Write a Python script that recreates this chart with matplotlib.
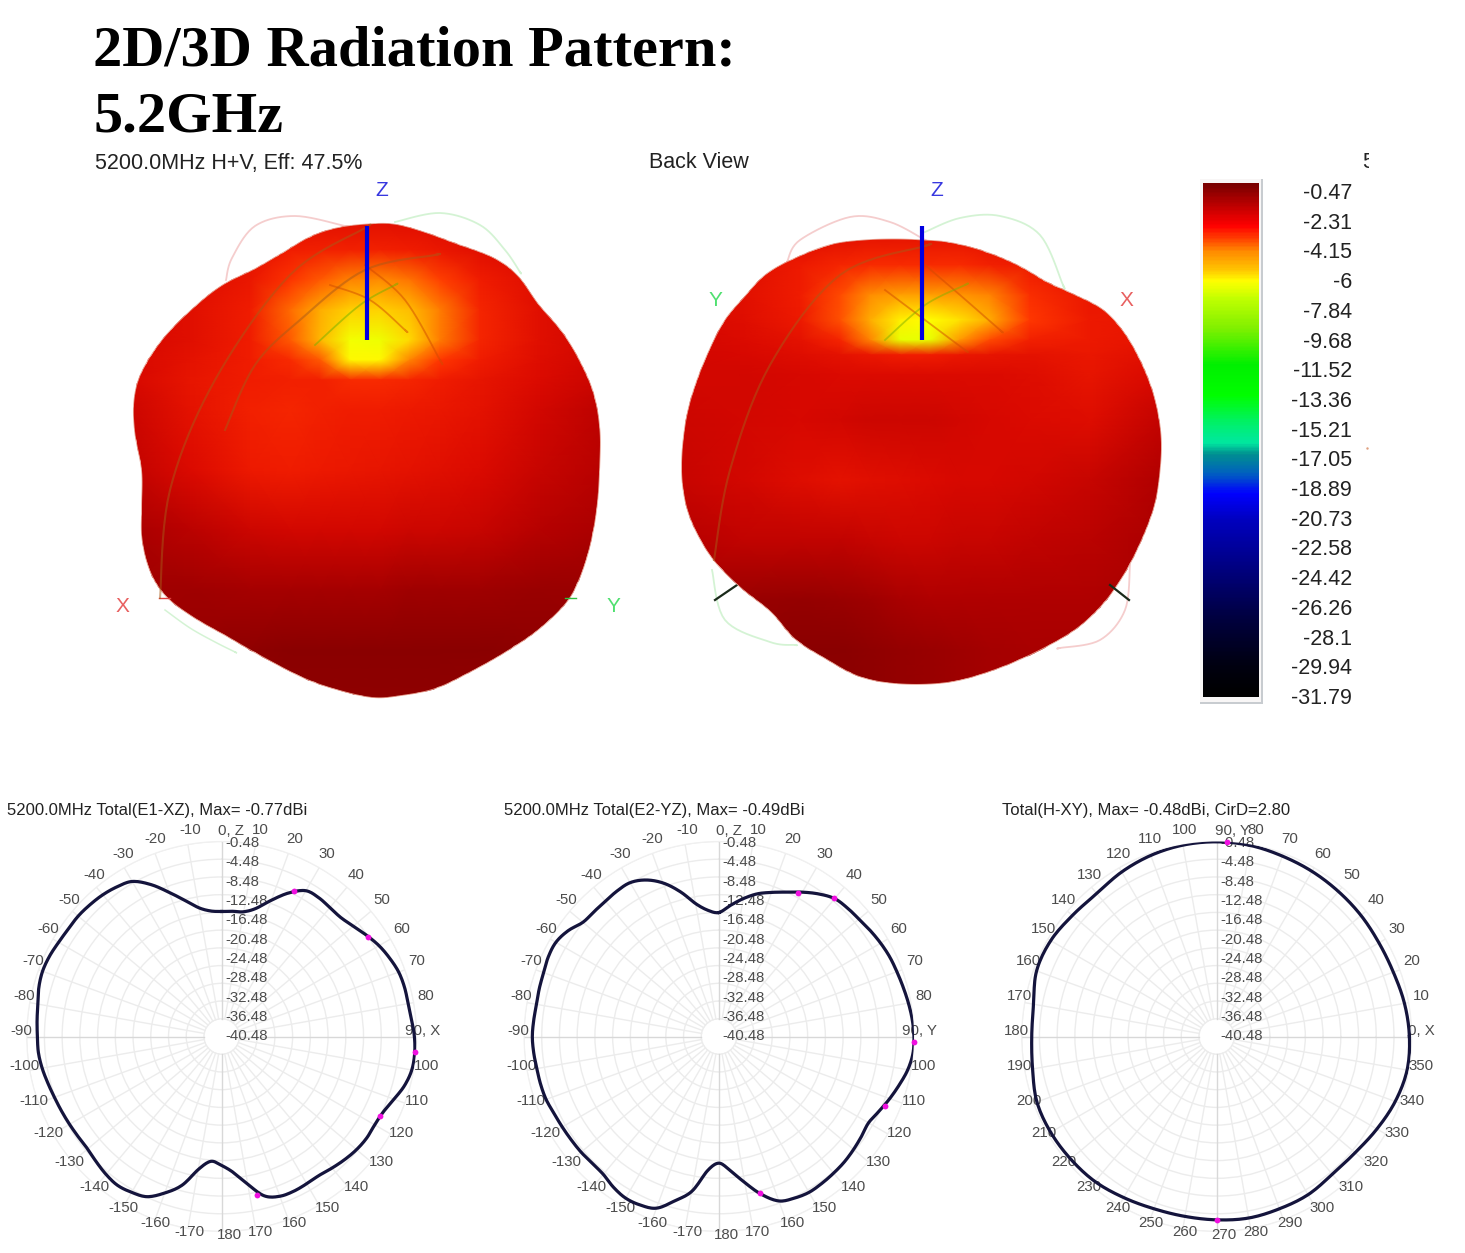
import matplotlib
matplotlib.use("Agg")
import matplotlib.pyplot as plt
import numpy as np
from matplotlib.colors import LinearSegmentedColormap, Normalize
from matplotlib.patches import Polygon, Rectangle

plt.rcParams["font.family"] = ["Liberation Sans", "DejaVu Sans"]

W, H = 1465, 1253

# --- colour scale ---
bar_labels = ["-0.47", "-2.31", "-4.15", "-6", "-7.84", "-9.68", "-11.52", "-13.36", "-15.21",
              "-17.05", "-18.89", "-20.73", "-22.58", "-24.42", "-26.26", "-28.1", "-29.94", "-31.79"]
scale_db = [0.47, 1.5, 3.0, 3.6, 4.6, 5.6, 6.4, 7.5, 9.3, 11.5, 13.4, 15.2, 16.3, 17.0, 18.2,
            19.4, 21.0, 24.0, 27.0, 30.0, 31.79]
scale_colors = ["#7a0000", "#b00000", "#ff0000", "#ff3000", "#ff8c00", "#ffc000", "#ffff00", "#c0ff00",
                "#80f000", "#00f000", "#00ff00", "#00f070", "#00e8a0", "#009090", "#0060c0",
                "#0000ff", "#0000c0", "#000080", "#000040", "#000010", "#000000"]
# the lit surface runs a little more orange than the bar
surface_db = [0.47, 0.8, 1.5, 2.2, 3.0, 3.6, 4.6, 5.6, 6.4, 7.5]
surface_colors = ["#7a0000", "#8a0000", "#b00000", "#d80800", "#f01c00", "#ff3800", "#ff8c00", "#ffc000",
                  "#ffff00", "#c0ff00"]

# --- 2D cuts, dBi ---
angles_5 = np.arange(0, 360, 5)
e1_db = [-16.27, -16.12, -15.9, -14.55, -11.77, -8.75, -6.5, -6.27, -6.5, -6.5, -5.74, -4.62,
         -3.49, -2.66, -1.98, -1.76, -1.76, -1.46, -1.0, -0.77, -0.93, -1.76, -3.11, -4.24,
         -4.62, -4.54, -4.77, -5.22, -5.74, -6.2, -6.12, -5.97, -6.12, -7.25, -10.64, -13.64,
         -15.37, -16.2, -14.0, -9.7, -6.9, -4.6, -3.87, -3.49, -3.87, -4.47, -4.99, -4.99,
         -4.84, -4.62, -4.32, -3.87, -3.34, -2.96, -2.89, -2.66, -2.36, -1.76, -1.46, -1.61,
         -1.98, -2.21, -2.21, -2.44, -2.74, -3.26, -4.09, -6.65, -9.88, -12.74, -15.0, -16.05]
e2_db = [-16.5, -14.77, -12.89, -11.16, -9.88, -8.53, -6.87, -5.22, -3.87, -3.49, -3.26, -2.81,
         -2.36, -1.98, -1.76, -1.46, -1.08, -0.71, -0.49, -0.55, -1.23, -2.36, -3.49, -4.62,
         -5.52, -5.22, -4.84, -4.47, -4.24, -4.02, -3.87, -4.24, -4.99, -7.62, -11.01, -14.02,
         -15.9, -14.02, -8.98, -6.12, -3.26, -2.51, -2.36, -2.96, -3.87, -4.02, -3.87, -3.79,
         -3.64, -3.41, -2.96, -2.81, -2.74, -2.51, -2.36, -2.51, -2.66, -2.51, -2.36, -1.98,
         -1.98, -2.89, -4.39, -4.62, -4.62, -4.39, -4.39, -5.52, -7.62, -10.64, -14.02, -15.9]
angles_10 = np.arange(0, 360, 10)
h_db = [-1.0, -1.46, -2.06, -2.21, -1.98, -1.76, -1.46, -1.16, -0.71, -0.55, -0.63, -1.0,
        -1.61, -2.36, -1.98, -1.23, -1.23, -2.51, -2.74, -2.29, -1.31, -1.23, -1.46, -1.76,
        -2.51, -3.11, -3.26, -3.11, -2.89, -3.11, -3.26, -3.9, -3.7, -2.74, -1.61, -0.86]

e1_mark_ang = [26.6, 55.7, 94.6, 116.8, 167.5]
e1_mark_db = [-7.85, -4.47, -0.77, -4.47, -7.96]
e2_mark_ang = [28.9, 39.8, 91.5, 112.6, 165.3]
e2_mark_db = [-7.4, -3.87, -0.49, -3.94, -7.92]
h_mark_ang = [87, 270]
h_mark_db = [-0.48, -3.11]

ring_db = np.arange(-40.48, 0, 4)
ring_labels = ["-0.48", "-4.48", "-8.48", "-12.48", "-16.48", "-20.48", "-24.48", "-28.48",
               "-32.48", "-36.48", "-40.48"]

# --- 3D views: outlines and colour levels ---
blob1_x = [367.6, 393.4, 421, 455.5, 493.5, 517.6, 538.3, 562.5, 579.7, 593.5, 599.8, 599.8, 597, 590,
           579.7, 566, 538, 504, 469, 435, 400, 372.7, 338, 303.7, 262, 228, 193, 165.7, 150, 142,
           141.6, 141.6, 134.7, 134, 141.6, 162, 190, 221, 255.4, 283, 310.6, 338]
blob1_y = [224, 224, 231, 243.4, 257.8, 275.6, 304, 332.5, 361, 393, 428.7, 464.3, 507, 546,
           578, 603, 630, 653, 672.6, 688.6, 695.7, 697.5, 690, 678, 656.5, 637, 617, 596, 571, 539,
           507, 471, 432, 400, 372, 340, 311, 286, 268.5, 252.5, 236.5, 227.6]
blob1_xn = [130, 190, 250, 290, 320, 350, 380, 410, 440, 480, 540, 610]
blob1_yn = [220, 250, 280, 310, 340, 360, 380, 410, 470, 530, 590, 650, 700]
blob1_lv = [[-2.2, -2.2, -2.3, -2.4, -2.5, -2.5, -2.5, -2.4, -2.3, -2.2, -2.1, -2.1],
            [-2.2, -2.3, -2.6, -3.0, -3.1, -3.1, -3.1, -3.0, -2.8, -2.5, -2.2, -2.1],
            [-2.2, -2.4, -2.8, -3.5, -4.0, -4.5, -4.6, -4.3, -3.7, -3.0, -2.4, -2.1],
            [-2.2, -2.5, -3.0, -4.2, -5.2, -5.8, -5.8, -5.5, -4.4, -3.2, -2.5, -2.0],
            [-2.2, -2.5, -3.0, -4.0, -5.4, -6.6, -6.7, -5.9, -4.4, -3.2, -2.5, -2.0],
            [-2.2, -2.6, -3.0, -3.3, -4.0, -6.3, -6.3, -4.5, -3.6, -3.0, -2.4, -2.0],
            [-2.2, -2.7, -3.0, -3.1, -3.1, -3.3, -3.3, -3.2, -3.0, -2.7, -2.3, -1.9],
            [-2.0, -2.6, -3.1, -3.2, -3.1, -3.0, -3.0, -2.9, -2.8, -2.6, -2.1, -1.7],
            [-1.8, -2.3, -2.9, -3.0, -2.9, -2.8, -2.7, -2.6, -2.5, -2.3, -1.9, -1.6],
            [-1.4, -1.7, -2.0, -2.1, -2.1, -2.1, -2.1, -2.0, -2.0, -1.9, -1.6, -1.4],
            [-1.2, -1.2, -1.3, -1.3, -1.3, -1.3, -1.3, -1.2, -1.2, -1.2, -1.1, -1.1],
            [-1.4, -1.1, -0.9, -0.8, -0.8, -0.8, -0.8, -0.8, -0.8, -0.8, -0.9, -1.1],
            [-1.4, -1.2, -1.0, -0.9, -0.9, -0.9, -0.9, -0.9, -0.9, -1.0, -1.1, -1.2]]

blob2_x = [922.8, 950.4, 985, 1019.4, 1047, 1071, 1102, 1123, 1140, 1154, 1161, 1160, 1154, 1140, 1123,
           1102, 1074.6, 1036.7, 995, 950.4, 902, 860.7, 826, 795, 771, 740, 712, 691.7, 683, 682,
           688, 702, 722.7, 743.4, 767.6, 802, 833, 864, 895]
blob2_y = [240, 242.5, 251.5, 266, 282, 293, 309, 331, 360, 396, 435, 471, 507, 543.5, 576,
           605, 630, 651.6, 669.6, 682, 684, 677, 659, 639, 612, 587, 558, 522, 489, 453,
           410, 367, 323.6, 298, 273, 255, 244, 240, 239]
blob2_xn = [680, 740, 800, 840, 870, 900, 930, 960, 990, 1030, 1090, 1165]
blob2_yn = [235, 265, 295, 320, 340, 355, 375, 420, 480, 540, 600, 650, 690]
blob2_lv = [[-2.4, -2.4, -2.4, -2.5, -2.6, -2.6, -2.6, -2.6, -2.5, -2.4, -2.4, -2.4],
            [-2.4, -2.5, -2.9, -3.2, -3.3, -3.3, -3.3, -3.3, -3.1, -2.9, -2.5, -2.4],
            [-2.3, -2.5, -3.0, -3.8, -4.6, -5.0, -5.0, -4.8, -4.5, -3.4, -2.8, -2.6],
            [-2.2, -2.4, -2.9, -3.9, -5.2, -6.2, -6.4, -6.0, -5.2, -3.6, -2.9, -2.7],
            [-2.1, -2.3, -2.6, -3.2, -4.5, -6.8, -6.8, -4.8, -3.8, -3.1, -2.9, -2.6],
            [-2.1, -2.2, -2.4, -2.6, -2.8, -3.0, -3.0, -2.8, -2.7, -2.6, -2.8, -2.4],
            [-2.1, -2.1, -2.2, -2.3, -2.3, -2.3, -2.3, -2.3, -2.3, -2.4, -2.7, -2.2],
            [-2.0, -2.1, -2.2, -2.1, -2.0, -2.0, -2.0, -2.1, -2.2, -2.3, -2.4, -1.8],
            [-1.9, -2.1, -2.4, -2.6, -2.5, -2.4, -2.3, -2.2, -2.2, -2.1, -1.9, -1.5],
            [-1.6, -1.8, -1.8, -1.8, -1.9, -2.0, -2.0, -1.9, -1.9, -1.8, -1.7, -1.4],
            [-1.4, -1.1, -1.0, -1.1, -1.2, -1.4, -1.5, -1.5, -1.5, -1.5, -1.5, -1.4],
            [-1.2, -0.9, -0.8, -0.8, -0.9, -1.0, -1.1, -1.2, -1.3, -1.4, -1.4, -1.4],
            [-1.0, -0.9, -0.9, -0.9, -0.9, -1.0, -1.1, -1.2, -1.3, -1.4, -1.4, -1.4]]

# faint cut traces and the lines seen through the surface
traces = [
    ([226, 232, 255, 295, 345], [280, 258, 226, 216, 226], "#f4c8c8", 1.3, 1),
    ([395, 440, 480, 505, 520], [222, 213, 225, 250, 272], "#d0f2d0", 1.3, 1),
    ([165, 190, 215, 235], [610, 628, 642, 652], "#d0f2d0", 1.1, 1),
    ([787, 800, 850, 890, 925], [262, 240, 217, 222, 240], "#f4c8c8", 1.3, 1),
    ([925, 960, 1000, 1040, 1063], [232, 218, 216, 235, 285], "#d0f2d0", 1.3, 1),
    ([712, 725, 770, 795], [570, 620, 642, 645], "#d0f2d0", 1.3, 1),
    ([1130, 1125, 1100, 1060], [565, 610, 640, 648], "#f4c8c8", 1.3, 1),
    ([160, 170, 215, 290, 365], [598, 490, 380, 275, 228], "#a85a18", 1.5, 4),
    ([225, 255, 300, 365, 435], [430, 365, 320, 270, 255], "#a85a18", 1.5, 4),
    ([330, 370, 405], [285, 300, 330], "#d04a00", 1.3, 4),
    ([365, 405, 440], [265, 300, 360], "#d04a00", 1.3, 4),
    ([315, 360, 395], [345, 305, 285], "#70b000", 1.3, 4),
    ([714, 730, 770, 840, 925], [560, 470, 365, 275, 246], "#a85a18", 1.5, 4),
    ([885, 925, 965], [290, 320, 350], "#d04a00", 1.3, 4),
    ([925, 960, 1000], [265, 295, 330], "#d04a00", 1.3, 4),
    ([885, 925, 965], [340, 305, 285], "#80b000", 1.3, 4),
]


def catmull(p, n=10):
    # round off between read points; the curve still goes through every one of them
    t = np.linspace(0, 1, n, endpoint=False)[:, None]
    out = []
    for a, b, c, d in zip(p[:-3], p[1:-2], p[2:-1], p[3:]):
        out.append(0.5 * (2 * b + (c - a) * t + (2 * a - 5 * b + 4 * c - d) * t ** 2
                          + (3 * b - a - 3 * c + d) * t ** 3))
    return np.vstack(out)


def spline(x, y, closed=False):
    p = np.column_stack([x, y]).astype(float)
    if closed:
        return catmull(np.vstack([p[-1], p, p[0], p[1]]))
    return catmull(np.vstack([p[0], p, p[-1], p[-1]]))


fig = plt.figure(figsize=(W / 100, H / 100), dpi=100, facecolor="white")
ov = fig.add_axes([0, 0, 1, 1], zorder=0)
ov.axis("off")

# --- title ---
for y, line in [(66, "2D/3D Radiation Pattern:"), (132, "5.2GHz")]:
    ov.text(93, y, line, fontsize=42, fontweight="bold", family=["Liberation Serif"], va="baseline", color="black")

for x, s in [(95, "5200.0MHz H+V, Eff: 47.5%"), (649, "Back View"), (1362, "5")]:
    ov.text(x, 168.5, s, fontsize=15.5, va="baseline", color="#222222")
ov.add_patch(Rectangle((1369, 150), 20, 25, fc="white", ec="none", zorder=3))
ov.plot([1367], [448], ".", color="#e0a080", ms=1.5)

# --- 3D views ---
cmap = LinearSegmentedColormap.from_list(
    "gain", [((d - scale_db[0]) / (scale_db[-1] - scale_db[0]), c) for d, c in zip(scale_db, scale_colors)])
norm = Normalize(scale_db[0], scale_db[-1])
surface = LinearSegmentedColormap.from_list(
    "surface", [((d - surface_db[0]) / (surface_db[-1] - surface_db[0]), c)
                for d, c in zip(surface_db, surface_colors)])
surface_norm = Normalize(surface_db[0], surface_db[-1])

for xs, ys, xn, yn, lv in [(blob1_x, blob1_y, blob1_xn, blob1_yn, blob1_lv),
                           (blob2_x, blob2_y, blob2_xn, blob2_yn, blob2_lv)]:
    outline = Polygon(spline(xs, ys, closed=True), closed=True, fc="none", ec="#e8a090", lw=0.6, zorder=2.2)
    ov.add_patch(outline)
    mesh = ov.pcolormesh(xn, yn, -np.array(lv), cmap=surface, norm=surface_norm, shading="gouraud", zorder=2)
    mesh.set_clip_path(outline)

for tx, ty, col, lw, z in traces:
    pts = spline(tx, ty)
    ov.plot(pts[:, 0], pts[:, 1], color=col, lw=lw, zorder=z, alpha=0.9 if z == 1 else 0.5)

for x in (367, 922):
    ov.plot([x, x], [226, 340], color="#0000e0", lw=3.0, zorder=5, solid_capstyle="butt")
ov.plot([715, 737], [600, 585], color="#1a2a1a", lw=1.6, zorder=1)
ov.plot([1110, 1129], [585, 600], color="#1a2a1a", lw=1.6, zorder=3)
ov.plot([159, 170], [598, 598], color="#e04040", lw=1.0, zorder=3)
ov.plot([565, 576], [598, 598], color="#30c040", lw=1.0, zorder=3)

for x, y, s, col in [(382, 190, "Z", "#3838e0"), (122, 606, "X", "#e86060"), (613, 606, "Y", "#50e070"),
                     (937, 190, "Z", "#3838e0"), (715, 300, "Y", "#50e070"), (1126, 301, "X", "#e86060")]:
    ov.text(x, y, s, color=col, fontsize=15, ha="center", va="center")

# --- colour bar ---
ov.add_patch(Rectangle((1200, 179), 63, 525, fc="#c8ccd0", ec="none", zorder=1))
ov.add_patch(Rectangle((1200, 179), 61, 523, fc="#f8f6f6", ec="none", zorder=1.1))
gradient = np.linspace(scale_db[0], scale_db[-1], 400)[:, None]
ov.imshow(gradient, cmap=cmap, norm=norm, extent=(1203, 1259, 697, 183), aspect="auto", zorder=1.5)
for i, s in enumerate(bar_labels):
    ov.text(1352, 193.5 + i * (697 - 192) / 17, s, ha="right", va="center", fontsize=15.5, color="#222222")

ov.set_xlim(0, W)
ov.set_ylim(H, 0)

# --- polar cuts ---
R = 195
CY = 1036.5
cuts = [
    (221.7, "5200.0MHz Total(E1-XZ), Max= -0.77dBi", 7, angles_5, e1_db, e1_mark_ang, e1_mark_db, "N", -1,
     {0: ("0, Z", 6, 4), 90: ("90, X", -7, 0), 180: ("180", 4, 0)}),
    (719.0, "5200.0MHz Total(E2-YZ), Max= -0.49dBi", 504, angles_5, e2_db, e2_mark_ang, e2_mark_db, "N", -1,
     {0: ("0, Z", 6, 4), 90: ("90, Y", -7, 0), 180: ("180", 4, 0)}),
    (1216.7, "Total(H-XY), Max= -0.48dBi, CirD=2.80", 1002, angles_10, h_db, h_mark_ang, h_mark_db, "E", 1,
     {0: ("0, X", -3, 0), 90: ("90, Y", 12, 4), 270: ("270", 4, 0)}),
]

for cx, title, title_x, ang, gain, m_ang, m_db, zero, direction, special in cuts:
    ov.text(title_x, 815, title, fontsize=12, va="baseline", color="#222222")
    ax = fig.add_axes([(cx - R) / W, 1 - (CY + R) / H, 2 * R / W, 2 * R / H], projection="polar", zorder=1)
    ax.set_facecolor("none")
    ax.set_theta_zero_location(zero)
    ax.set_theta_direction(direction)
    ax.set_rlim(-44.48, -0.48)
    ax.set_rticks(ring_db)
    ax.set_xticks(np.radians(np.arange(0, 360, 10)))
    ax.set_xticklabels([])
    ax.set_yticklabels([])
    ax.tick_params(length=0)
    ax.xaxis.grid(False)
    ax.yaxis.grid(True, color="#ececec", lw=1.0)
    ax.spines["polar"].set_color("#f0f0f0")
    for a in range(0, 360, 10):
        col = "#d8d8d8" if a % 90 == 0 else "#ececec"
        ax.plot([np.radians(a)] * 2, [-40.48, -0.48], color=col, lw=1.0, zorder=2)
    # periodic, so carry points across the seam before rounding off
    wrap_a = np.r_[ang[-1] - 360, ang, ang[0] + 360, ang[1] + 360]
    wrap_g = np.r_[gain[-1], gain, gain[0], gain[1]]
    curve = catmull(np.column_stack([wrap_a, wrap_g]).astype(float))
    curve = np.vstack([curve, curve[0]])
    ax.plot(np.radians(curve[:, 0]), curve[:, 1], color="#14143c", lw=2.3, zorder=4)
    ax.plot(np.radians(m_ang), m_db, "o", color="#f010e0", ms=4.2, mew=0, zorder=5, clip_on=False)

    # labels sit in the polar axes so they cover the grid but stay under the curve
    for i, s in enumerate(ring_labels):
        ax.text(cx + 3.3, 1036.3 - (10 - i) * 19.33, s, fontsize=10.8, color="#4c4c4c", va="center", ha="left",
                transform=ov.transData, zorder=3, clip_on=False)

    # angle labels round the rim
    for a in range(0, 360, 10):
        if direction == -1:
            signed = a if a <= 180 else a - 360
            th = np.radians(a)
        else:
            signed = a
            th = np.radians(90 - a)
        s, dx, dy = special.get(signed, (str(signed), 0, 0))
        ax.text(cx + 204 * np.sin(th) + 3.5 + dx, CY - 204 * np.cos(th) - 5.5 + dy, s, fontsize=10.8,
                color="#4c4c4c", ha="center", va="center", transform=ov.transData, zorder=3, clip_on=False)

fig.savefig("out.png", dpi=100, facecolor="white")
